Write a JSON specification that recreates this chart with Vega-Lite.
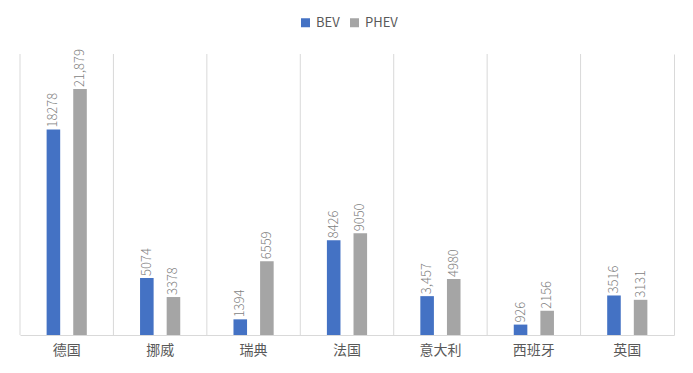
{
  "$schema": "https://vega.github.io/schema/vega-lite/v6.json",
  "width": 654,
  "height": 281,
  "autosize": {"type": "none"},
  "padding": {"left": 20, "top": 54, "right": 19, "bottom": 38},
  "background": "white",
  "config": {"view": {"stroke": null}, "font": "Noto Sans CJK SC"},
  "data": {
    "values": [
      {"country": "德国", "type": "BEV", "value": 18278, "label": "18278"},
      {"country": "德国", "type": "PHEV", "value": 21879, "label": "21,879"},
      {"country": "挪威", "type": "BEV", "value": 5074, "label": "5074"},
      {"country": "挪威", "type": "PHEV", "value": 3378, "label": "3378"},
      {"country": "瑞典", "type": "BEV", "value": 1394, "label": "1394"},
      {"country": "瑞典", "type": "PHEV", "value": 6559, "label": "6559"},
      {"country": "法国", "type": "BEV", "value": 8426, "label": "8426"},
      {"country": "法国", "type": "PHEV", "value": 9050, "label": "9050"},
      {"country": "意大利", "type": "BEV", "value": 3457, "label": "3,457"},
      {"country": "意大利", "type": "PHEV", "value": 4980, "label": "4980"},
      {"country": "西班牙", "type": "BEV", "value": 926, "label": "926"},
      {"country": "西班牙", "type": "PHEV", "value": 2156, "label": "2156"},
      {"country": "英国", "type": "BEV", "value": 3516, "label": "3516"},
      {"country": "英国", "type": "PHEV", "value": 3131, "label": "3131"}
    ]
  },
  "layer": [
    {
      "transform": [{"filter": "datum.type === 'BEV'"}],
      "mark": {"type": "rule", "color": "#d9d9d9", "strokeWidth": 1},
      "encoding": {
        "x": {
          "field": "country", "type": "nominal", "bandPosition": 0,
          "sort": ["德国", "挪威", "瑞典", "法国", "意大利", "西班牙", "英国"],
          "scale": {"paddingInner": 0, "paddingOuter": 0},
          "axis": {
            "bandPosition": 0.5,
            "title": null, "labelAngle": 0, "labelAlign": "center", "ticks": false, "grid": false,
            "domainColor": "#d9d9d9", "labelFontSize": 14, "labelColor": "#595959",
            "labelPadding": 8
          }
        }
      }
    },
    {
      "mark": {"type": "bar"},
      "encoding": {
        "x": {
          "field": "country", "type": "nominal",
          "sort": ["德国", "挪威", "瑞典", "法国", "意大利", "西班牙", "英国"],
          "scale": {"paddingInner": 0, "paddingOuter": 0},
          "axis": {
            "bandPosition": 0.5,
            "title": null, "labelAngle": 0, "labelAlign": "center", "ticks": false, "grid": false,
            "domainColor": "#d9d9d9", "labelFontSize": 14, "labelColor": "#595959",
            "labelPadding": 8
          }
        },
        "xOffset": {
          "field": "type", "sort": ["BEV", "PHEV"],
          "scale": {"paddingInner": 0.49, "paddingOuter": 1.15}
        },
        "y": {
          "field": "value", "type": "quantitative",
          "scale": {"domain": [0, 25000], "nice": false},
          "axis": {
            "orient": "right", "title": null, "labels": false, "ticks": false,
            "grid": false, "domain": true, "domainColor": "#d9d9d9"
          }
        },
        "color": {
          "field": "type", "type": "nominal",
          "scale": {"domain": ["BEV", "PHEV"], "range": ["#4472C4", "#A5A5A5"]},
          "legend": {
            "title": null, "orient": "none", "direction": "horizontal",
            "legendX": 279, "legendY": -38,
            "symbolType": "square", "symbolSize": 81, "symbolStrokeWidth": 0,
            "labelFontSize": 13, "labelColor": "#595959", "labelOffset": 4,
            "columnPadding": 8
          }
        }
      }
    },
    {
      "mark": {
        "type": "text", "angle": 270, "align": "left", "baseline": "middle",
        "dx": 2, "fontSize": 13, "fontWeight": 300, "color": "#7f7f7f"
      },
      "encoding": {
        "x": {
          "field": "country", "type": "nominal",
          "sort": ["德国", "挪威", "瑞典", "法国", "意大利", "西班牙", "英国"]
        },
        "xOffset": {"field": "type", "sort": ["BEV", "PHEV"]},
        "y": {"field": "value", "type": "quantitative", "scale": {"domain": [0, 25000], "nice": false}},
        "text": {"field": "label"}
      }
    }
  ]
}
